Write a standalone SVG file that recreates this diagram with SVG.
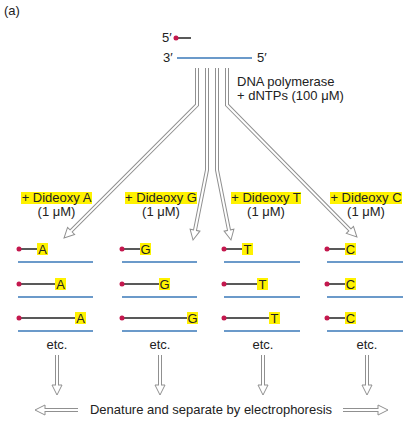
<svg xmlns="http://www.w3.org/2000/svg" width="420" height="424" viewBox="0 0 420 424">
<style>
text{font-family:"Liberation Sans",Arial,sans-serif;font-size:13px;fill:#222}
.mid{text-anchor:middle}
.hl{fill:#fff200}
.blue{stroke:#3a78b8;stroke-width:1.6;fill:none}
.blk{stroke:#222;stroke-width:1.5;fill:none}
.dot{fill:#c4184e}
.ao{stroke:#909090;stroke-width:4;fill:none;stroke-linejoin:miter}
.ai{stroke:#fff;stroke-width:2;fill:none;stroke-linecap:square;stroke-linejoin:miter}
</style>
<defs>
<marker id="hd" markerUnits="userSpaceOnUse" markerWidth="14" markerHeight="14" refX="0" refY="7" orient="auto" viewBox="-1 0 14 14" overflow="visible">
<path d="M0,2 L10,7 L0,12 Z" fill="#fff" stroke="#909090" stroke-width="1"/>
</marker>
</defs>
<rect width="420" height="424" fill="#fff"/>
<text x="4" y="15">(a)</text>
<g id="template">
<text x="162" y="42" font-size="12">5′</text>
<line class="blk" x1="176" y1="38" x2="191" y2="38"/>
<circle class="dot" cx="176" cy="38" r="2.5"/>
<text x="163" y="62" font-size="12">3′</text>
<line class="blue" x1="177" y1="58" x2="252" y2="58"/>
<text x="257" y="62" font-size="12">5′</text>
</g>
<g id="polymerase">
<text x="237" y="86">DNA polymerase</text>
<text x="237" y="100">+ dNTPs (100 μM)</text>
</g>
<g id="connectors">
<path class="ao" marker-end="url(#hd)" d="M197,68 V105 L71.1,230.9"/>
<path class="ai" d="M197,69 V105 L71.1,230.9"/>
<path class="ao" marker-end="url(#hd)" d="M207,68 V170 L195,230.2"/>
<path class="ai" d="M207,69 V170 L195,230.2"/>
<path class="ao" marker-end="url(#hd)" d="M217,68 V170 L229,230.2"/>
<path class="ai" d="M217,69 V170 L229,230.2"/>
<path class="ao" marker-end="url(#hd)" d="M227,68 V105 L349.9,229.9"/>
<path class="ai" d="M227,69 V105 L349.9,229.9"/>
<path class="ao" marker-end="url(#hd)" d="M57,355 V385"/>
<path class="ai" d="M57,356 V385"/>
<path class="ao" marker-end="url(#hd)" d="M160,355 V385"/>
<path class="ai" d="M160,356 V385"/>
<path class="ao" marker-end="url(#hd)" d="M263,355 V385"/>
<path class="ai" d="M263,356 V385"/>
<path class="ao" marker-end="url(#hd)" d="M367,355 V385"/>
<path class="ai" d="M367,356 V385"/>
<path class="ao" marker-end="url(#hd)" d="M78,410 H45"/>
<path class="ai" d="M77,410 H45"/>
<path class="ao" marker-end="url(#hd)" d="M343,410 H378"/>
<path class="ai" d="M344,410 H378"/>
</g>
<g id="colA">
<rect class="hl" x="21" y="192" width="71" height="12"/>
<text class="mid" x="56.5" y="202">+ Dideoxy A</text>
<text class="mid" x="56.5" y="216">(1 μM)</text>
<line class="blk" x1="19" y1="249" x2="37" y2="249"/><circle class="dot" cx="19" cy="249" r="2.5"/>
<rect class="hl" x="37" y="243" width="11" height="12"/><text class="mid" x="42.5" y="253.5">A</text>
<line class="blue" x1="18" y1="262" x2="93" y2="262"/>
<line class="blk" x1="19" y1="284" x2="55" y2="284"/><circle class="dot" cx="19" cy="284" r="2.5"/>
<rect class="hl" x="55" y="278" width="11" height="12"/><text class="mid" x="60.5" y="288.5">A</text>
<line class="blue" x1="18" y1="297" x2="93" y2="297"/>
<line class="blk" x1="19" y1="318" x2="75" y2="318"/><circle class="dot" cx="19" cy="318" r="2.5"/>
<rect class="hl" x="75" y="312" width="11" height="12"/><text class="mid" x="80.5" y="322.5">A</text>
<line class="blue" x1="18" y1="331" x2="93" y2="331"/>
<text class="mid" x="57" y="349">etc.</text>
</g>
<g id="colG">
<rect class="hl" x="125" y="192" width="72" height="12"/>
<text class="mid" x="161" y="202">+ Dideoxy G</text>
<text class="mid" x="161" y="216">(1 μM)</text>
<line class="blk" x1="122" y1="249" x2="140" y2="249"/><circle class="dot" cx="122" cy="249" r="2.5"/>
<rect class="hl" x="140" y="243" width="11" height="12"/><text class="mid" x="145.5" y="253.5">G</text>
<line class="blue" x1="122" y1="262" x2="197" y2="262"/>
<line class="blk" x1="122" y1="284" x2="159" y2="284"/><circle class="dot" cx="122" cy="284" r="2.5"/>
<rect class="hl" x="159" y="278" width="11" height="12"/><text class="mid" x="164.5" y="288.5">G</text>
<line class="blue" x1="122" y1="297" x2="197" y2="297"/>
<line class="blk" x1="122" y1="318" x2="187" y2="318"/><circle class="dot" cx="122" cy="318" r="2.5"/>
<rect class="hl" x="187" y="312" width="11" height="12"/><text class="mid" x="192.5" y="322.5">G</text>
<line class="blue" x1="122" y1="331" x2="197" y2="331"/>
<text class="mid" x="160" y="349">etc.</text>
</g>
<g id="colT">
<rect class="hl" x="231" y="192" width="70" height="12"/>
<text class="mid" x="266" y="202">+ Dideoxy T</text>
<text class="mid" x="266" y="216">(1 μM)</text>
<line class="blk" x1="224" y1="249" x2="242" y2="249"/><circle class="dot" cx="224" cy="249" r="2.5"/>
<rect class="hl" x="242" y="243" width="11" height="12"/><text class="mid" x="247.5" y="253.5">T</text>
<line class="blue" x1="224" y1="262" x2="300" y2="262"/>
<line class="blk" x1="224" y1="284" x2="257" y2="284"/><circle class="dot" cx="224" cy="284" r="2.5"/>
<rect class="hl" x="257" y="278" width="11" height="12"/><text class="mid" x="262.5" y="288.5">T</text>
<line class="blue" x1="224" y1="297" x2="300" y2="297"/>
<line class="blk" x1="224" y1="318" x2="269" y2="318"/><circle class="dot" cx="224" cy="318" r="2.5"/>
<rect class="hl" x="269" y="312" width="11" height="12"/><text class="mid" x="274.5" y="322.5">T</text>
<line class="blue" x1="224" y1="331" x2="300" y2="331"/>
<text class="mid" x="263" y="349">etc.</text>
</g>
<g id="colC">
<rect class="hl" x="330" y="192" width="72" height="12"/>
<text class="mid" x="366" y="202">+ Dideoxy C</text>
<text class="mid" x="366" y="216">(1 μM)</text>
<line class="blk" x1="327" y1="249" x2="345" y2="249"/><circle class="dot" cx="327" cy="249" r="2.5"/>
<rect class="hl" x="345" y="243" width="11" height="12"/><text class="mid" x="350.5" y="253.5">C</text>
<line class="blue" x1="327" y1="262" x2="403" y2="262"/>
<line class="blk" x1="327" y1="284" x2="345" y2="284"/><circle class="dot" cx="327" cy="284" r="2.5"/>
<rect class="hl" x="345" y="278" width="11" height="12"/><text class="mid" x="350.5" y="288.5">C</text>
<line class="blue" x1="327" y1="297" x2="403" y2="297"/>
<line class="blk" x1="327" y1="318" x2="345" y2="318"/><circle class="dot" cx="327" cy="318" r="2.5"/>
<rect class="hl" x="345" y="312" width="11" height="12"/><text class="mid" x="350.5" y="322.5">C</text>
<line class="blue" x1="327" y1="331" x2="403" y2="331"/>
<text class="mid" x="367" y="349">etc.</text>
</g>
<g id="electrophoresis">
<text class="mid" x="211" y="414">Denature and separate by electrophoresis</text>
</g>
</svg>
